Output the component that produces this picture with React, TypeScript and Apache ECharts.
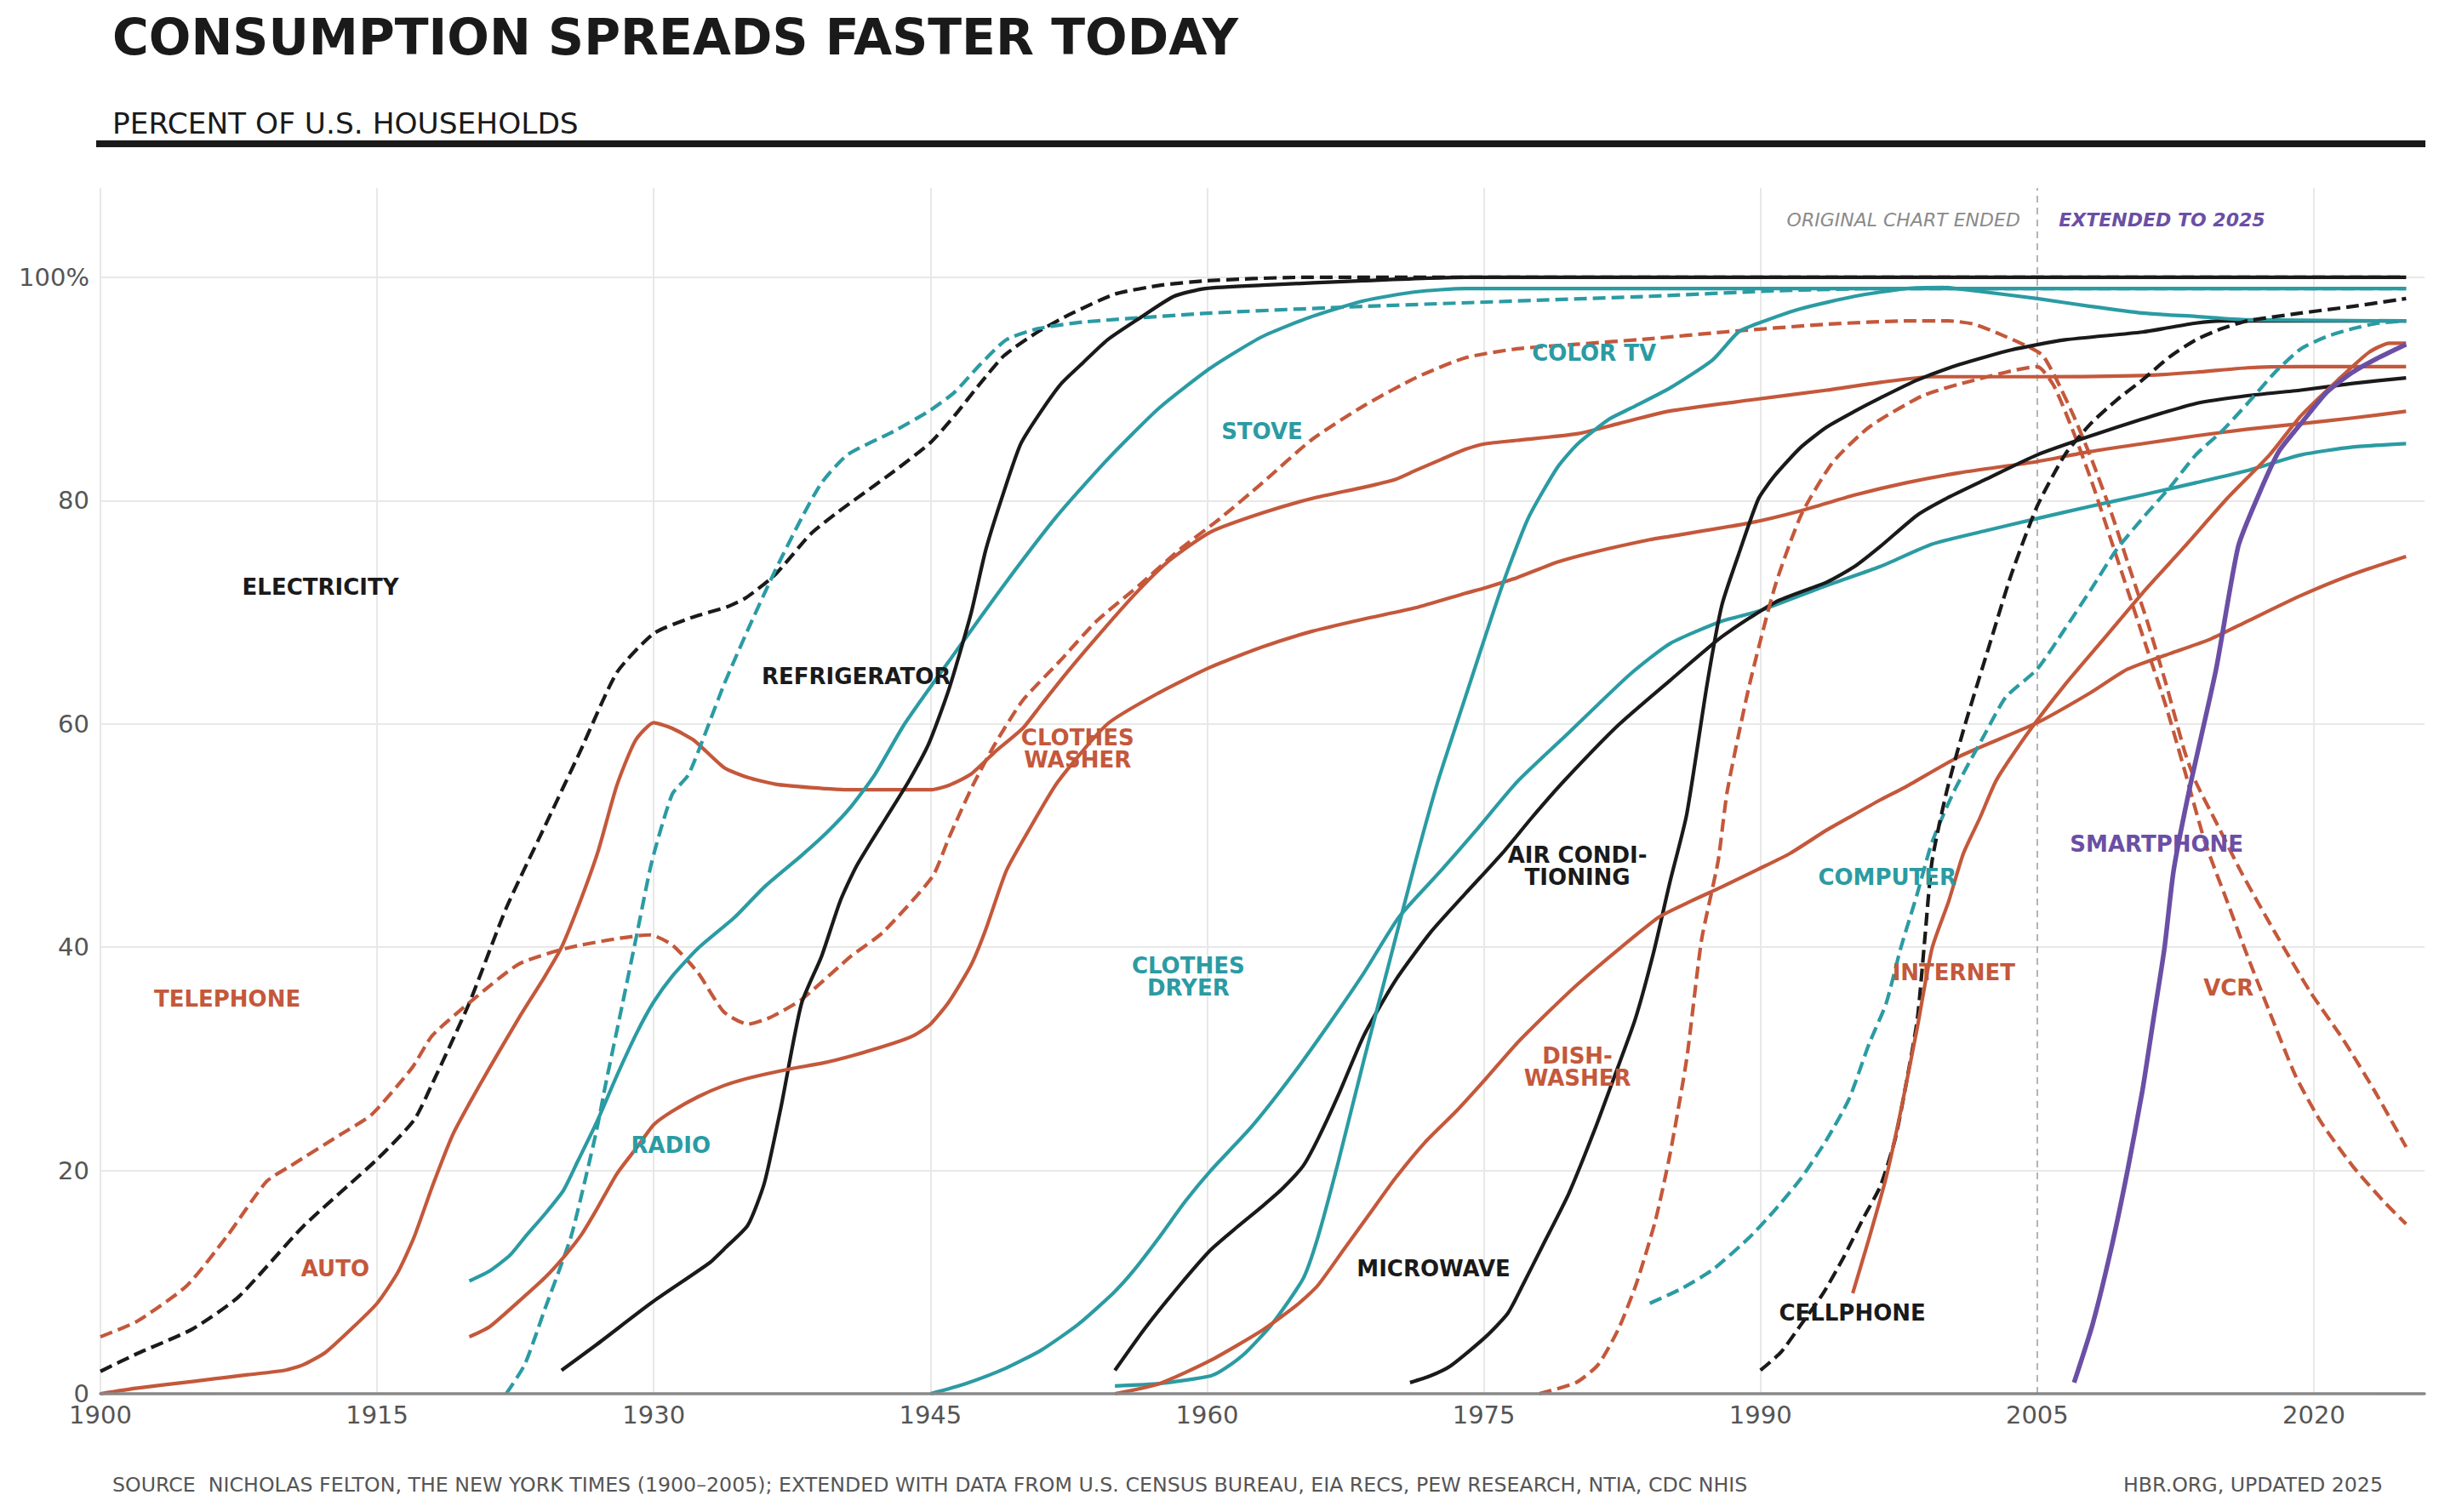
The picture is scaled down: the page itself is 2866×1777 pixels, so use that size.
import React, { useEffect, useRef } from "react";
import * as echarts from "echarts";

// ---------- DATA (year, percent of U.S. households) ----------
const ELECTRICITY = [[1900,2],[1902,3.6],[1905,5.8],[1907.5,8.7],[1911,15],[1915,21],[1917,24.5],[1918,27.8],[1920,35],[1922,43.5],[1924,50.5],[1926,57.5],[1928,64.6],[1930,68.1],[1932,69.5],[1934,70.5],[1935,71.3],[1936.6,73.4],[1938.5,77],[1940,79],[1943,82.6],[1945,85.2],[1946.3,87.6],[1947.7,90.5],[1949,93],[1950.8,95.1],[1952.7,96.8],[1955,98.5],[1957.5,99.3],[1960,99.7],[1965,100],[2025,100]];
const TELEPHONE = [[1900,5.1],[1902,6.5],[1904.7,9.7],[1906.9,14.2],[1909,19],[1910.3,20.4],[1913,23.2],[1914.7,25],[1916.9,29.2],[1918,32.1],[1920.2,35.3],[1922.7,38.5],[1925.5,40],[1929.8,41.1],[1931,40.2],[1932.4,37.7],[1933.8,34.2],[1935.1,33.1],[1936.3,33.7],[1938,35.3],[1940.7,39.2],[1942.4,41.3],[1945.1,46.3],[1946,49.8],[1947.3,54.5],[1948.5,58.2],[1950,62.1],[1952,65.6],[1954,69.2],[1956.3,72.4],[1958.5,75.6],[1960.7,78.4],[1963,81.6],[1965.7,85.5],[1968.5,88.5],[1971.3,91],[1974,92.8],[1976.8,93.6],[1980,94],[1984,94.5],[1988,95.1],[1993.6,95.8],[1998,96.1],[2000.2,96.1],[2001.6,95.8],[2003,94.9],[2004.5,93.8],[2005.3,93],[2006,91],[2007,87.5],[2008,83.5],[2009,79],[2010,74],[2011,69],[2012,63.5],[2013,57.5],[2013.6,54.8],[2014.7,51.2],[2016.1,46.6],[2017.9,41.3],[2019.8,36],[2021.6,31.7],[2023.3,27.1],[2025,22.1]];
const AUTO = [[1900,0],[1902,0.5],[1905,1.1],[1908,1.7],[1910,2.1],[1911,2.6],[1912.2,3.7],[1913.6,5.8],[1915,8.1],[1916.1,10.8],[1917,14],[1918,18.6],[1919.1,23.2],[1920,26],[1921.1,29.2],[1922.7,33.7],[1924.1,37.4],[1925,40],[1926.1,44.5],[1927,48.7],[1928,54.5],[1929,58.5],[1930,60.1],[1931,59.6],[1932.2,58.5],[1933.8,56.1],[1935.1,55.2],[1936.6,54.6],[1938.5,54.3],[1940.7,54.1],[1945,54.1],[1946,54.5],[1947.2,55.5],[1948.5,57.5],[1950,59.6],[1951,61.7],[1952.4,64.6],[1954.4,68.5],[1956.3,72],[1958,74.7],[1960.2,77.2],[1963,78.9],[1965.7,80.2],[1968.5,81.2],[1970.2,81.9],[1971.3,82.7],[1972.7,83.7],[1974,84.6],[1975.1,85.1],[1976.8,85.4],[1980.1,86],[1982.3,86.9],[1985,88],[1989.4,89],[1993.6,89.9],[1996.5,90.6],[1999.3,91.1],[2005,91.1],[2010.7,91.2],[2013.6,91.5],[2016.4,91.9],[2019.3,92],[2025,92]];
const RADIO = [[1920,10.1],[1921.1,11],[1922.2,12.4],[1923,14],[1924.1,16.1],[1925.1,18.2],[1925.9,20.9],[1926.9,24.3],[1928,28.5],[1929.1,32.4],[1930,35.1],[1931,37.4],[1932.4,39.9],[1934.4,42.7],[1936,45.4],[1938,48.2],[1939.4,50.3],[1940.7,52.6],[1942,55.5],[1943.6,60],[1946.3,66.3],[1949.1,72.7],[1951.9,78.7],[1954.6,83.7],[1957.4,88.3],[1960.2,91.9],[1963,94.7],[1965.7,96.5],[1968.5,97.9],[1971.3,98.7],[1974,99],[2025,99]];
const STOVE = [[1922,0],[1923,2.6],[1924.1,7.6],[1925.5,14],[1926.3,19.3],[1926.9,23.6],[1927.4,27.8],[1928.3,34.9],[1929.1,41.3],[1929.9,47.7],[1931,53.7],[1931.9,55.5],[1933.8,63.5],[1935.2,68.8],[1936.6,73.8],[1938,78.4],[1939.1,81.6],[1940.5,84.1],[1943,86.2],[1944.9,88],[1946.3,89.7],[1947.7,92.2],[1949.1,94.4],[1950.8,95.4],[1953.3,96],[1960.2,96.8],[1968.5,97.4],[1984,98.3],[1990.8,98.8],[1996.5,99],[2025,99]];
const REFRIGERATOR = [[1925,2.1],[1926.9,4.4],[1930,8.3],[1933,11.7],[1933.9,13.1],[1935.1,15.1],[1936,18.9],[1936.9,25.7],[1938,34.9],[1939.1,39.2],[1940.1,44.1],[1941,47.3],[1942.6,51.6],[1943.8,54.8],[1944.9,58.2],[1946,63.1],[1947.2,69.9],[1948,75.6],[1949,80.9],[1949.9,85.1],[1951,88],[1952.1,90.5],[1953.3,92.4],[1954.6,94.4],[1956.3,96.3],[1958.2,98.3],[1959.9,99],[1963,99.3],[1968.5,99.7],[1974,100],[2025,100]];
const CLOTHES_WASHER = [[1920,5.1],[1921.1,6],[1922.7,8.3],[1924.1,10.4],[1925.2,12.4],[1926.1,14.3],[1926.9,16.5],[1928,19.7],[1929.1,22.1],[1930,24.1],[1931,25.3],[1932.4,26.6],[1933.8,27.6],[1935.2,28.3],[1937.4,29.1],[1939.1,29.6],[1940.8,30.3],[1943,31.4],[1944.1,32.1],[1945,33.1],[1946,35.1],[1947.2,38.4],[1948,41.6],[1949.1,46.8],[1950.2,50.1],[1951.9,54.8],[1954.6,60],[1957.4,62.8],[1960.2,65.1],[1963,66.9],[1965.7,68.3],[1968.5,69.4],[1971.3,70.4],[1974,71.7],[1975.1,72.2],[1976.8,73.1],[1979,74.5],[1981,75.4],[1984,76.5],[1985.1,76.8],[1989.4,78],[1992.2,79.1],[1995.1,80.5],[1997.9,81.6],[2000.8,82.5],[2005,83.5],[2007.9,84.4],[2010.7,85.1],[2013.6,85.8],[2016.4,86.4],[2019.3,86.9],[2022.1,87.4],[2025,88]];
const CLOTHES_DRYER = [[1945,0],[1946.9,0.9],[1949.1,2.3],[1951,3.9],[1953,6.2],[1954.9,9],[1956,11],[1957.4,14],[1958.8,17.2],[1960.2,20],[1962.4,23.9],[1964.6,28.5],[1966.6,33.1],[1968.5,37.7],[1970.4,42.7],[1972.7,46.9],[1974.6,50.5],[1976.8,54.8],[1979.6,59.2],[1982.9,64.4],[1985.1,67.2],[1987.9,69.2],[1989.9,70.1],[1993.6,72.4],[1996.5,74.1],[1999.3,76.1],[2002.2,77.3],[2005,78.4],[2007.9,79.5],[2010.7,80.5],[2013.6,81.6],[2016.4,82.7],[2019.3,84.1],[2022.1,84.8],[2025,85.1]];
const AIR_CONDITIONING = [[1955,2.1],[1956.6,5.8],[1958.5,9.7],[1960.2,12.9],[1961.6,14.9],[1963,16.8],[1964.1,18.4],[1965.2,20.4],[1966,22.8],[1967.1,26.7],[1968.5,32.1],[1970.2,37],[1972.1,41.3],[1974,44.8],[1976,48.4],[1977.6,51.6],[1979.3,54.8],[1982.3,59.9],[1985.1,63.9],[1987.9,67.8],[1990.8,70.9],[1993.6,72.7],[1995.1,74.1],[1996.5,75.9],[1998.5,78.7],[2000.2,80.3],[2002.2,81.9],[2005,84.1],[2007.9,85.8],[2010.7,87.3],[2013.6,88.7],[2016.4,89.4],[2019.3,89.9],[2022.1,90.5],[2025,91]];
const MICROWAVE = [[1971,1],[1972.1,1.6],[1973.2,2.5],[1975.1,5.1],[1976.3,7.2],[1977.1,9.7],[1978.2,13.3],[1979.6,17.9],[1981,23.6],[1982.1,28.5],[1983.2,33.5],[1984.2,39.5],[1985.1,45.9],[1986,51.9],[1987.1,63.5],[1987.9,70.6],[1988.9,75.6],[1989.9,80.2],[1990.8,82.3],[1992.2,84.8],[1993.6,86.6],[1995.1,88],[1996.5,89.2],[1998.5,90.8],[2000.8,92.2],[2003.6,93.5],[2006.5,94.4],[2010.7,95.1],[2013.6,95.9],[2015,96.1],[2025,96.1]];
const COLOR_TV = [[1955,0.7],[1957.4,0.9],[1960.2,1.6],[1961,2.3],[1962.1,3.7],[1963.5,6.2],[1965.2,10.3],[1966,14],[1967.1,20.7],[1968.5,29.9],[1969.9,38.8],[1971.3,47.7],[1972.5,54.8],[1974,62.4],[1976,72.4],[1977.4,78.4],[1979,83],[1980.1,85.1],[1981.8,87.3],[1983,88.3],[1985.1,90.1],[1987.4,92.6],[1988.8,95.1],[1989.9,95.9],[1992.2,97.2],[1995.1,98.3],[1997.9,99],[1999.9,99.1],[2001.6,98.8],[2005,98.1],[2007.9,97.4],[2010.7,96.8],[2013.6,96.5],[2016.4,96.2],[2025,96.1]];
const DISHWASHER = [[1955,0],[1957.4,0.9],[1960.2,3],[1963,5.7],[1964.9,8],[1966,9.7],[1967.4,12.9],[1968.8,16.1],[1970.2,19.3],[1971.8,22.5],[1973.5,25.3],[1975.1,28.2],[1976.8,31.4],[1978.5,34.2],[1980.1,36.7],[1982.3,39.8],[1984.5,42.7],[1986.2,44.1],[1987.9,45.4],[1989.9,47],[1991.6,48.4],[1993.6,50.5],[1995.1,51.9],[1996.5,53.2],[1997.8,54.3],[2000.8,57.1],[2005,60.1],[2007.9,62.8],[2009.9,64.9],[2012.2,66.3],[2014.4,67.6],[2016.4,69.2],[2019.3,71.5],[2022.1,73.4],[2025,75]];
const VCR = [[1978,0],[1980,1],[1981.2,2.6],[1982.3,5.8],[1983.3,10],[1984.3,15.5],[1985.1,21.5],[1986,30],[1986.8,40.6],[1987.7,47.7],[1988.2,54],[1989.4,63.5],[1990.8,72.4],[1992.2,78.7],[1993.9,83.4],[1995.9,86.6],[1998.8,89.4],[2001.6,90.8],[2005,92],[2005.9,90.3],[2007,86],[2008,81.5],[2009,76.5],[2010,71.5],[2011,66.5],[2012,61.5],[2013,55.8],[2014.1,49.4],[2015.3,44.1],[2016.4,39.2],[2017.6,34.2],[2019,28.5],[2020.4,24.3],[2022.1,20.4],[2023.8,17.2],[2025,15.2]];
const COMPUTER = [[1984,8.1],[1985.7,9.4],[1987.4,11.1],[1989.4,14],[1990.8,16.5],[1992.2,19.3],[1993.6,22.8],[1994.8,26.4],[1995.9,31.4],[1996.8,34.9],[1997.6,39.9],[1998.5,44.8],[1999.3,49.4],[2000.5,54],[2002.2,59.2],[2003.3,62.4],[2005,64.9],[2006.5,68.5],[2007.9,72],[2009.3,75.6],[2010.7,78.4],[2012.2,81.2],[2013.6,84.1],[2015,86.2],[2016.4,88.7],[2017.9,91.5],[2019.3,93.6],[2020.7,94.7],[2022.1,95.4],[2023.5,95.9],[2025,96.1]];
const CELLPHONE = [[1990,2.1],[1991.1,3.7],[1992.2,6.2],[1993.4,9],[1994.5,12.2],[1995.6,15.8],[1996.5,18.6],[1997.3,22.8],[1997.9,27.8],[1998.5,33.5],[1998.9,40.6],[1999.3,47.7],[2000.1,54],[2001.1,60],[2002.4,67],[2003.6,73.4],[2005,79.5],[2006.5,84.1],[2007.9,86.9],[2009.3,89],[2010.7,90.8],[2012.2,92.9],[2013.6,94.4],[2015,95.4],[2016.4,96.1],[2019.3,96.8],[2022.1,97.4],[2025,98.1]];
const INTERNET = [[1995,9],[1995.9,14],[1996.8,19.3],[1997.6,25.3],[1998.5,32.8],[1999.3,39.9],[2000.2,44.1],[2001,48.4],[2001.9,51.6],[2002.8,55],[2004.5,59.2],[2006.5,63.5],[2008.5,67.4],[2010.7,71.7],[2013,75.9],[2015.3,80.2],[2017.6,84.1],[2019.3,87.6],[2021.3,90.8],[2023,93.3],[2024.1,94.1],[2025,94.1]];
const SMARTPHONE = [[2007,1],[2008,6.2],[2009,12.9],[2009.9,20],[2010.7,27.1],[2011.3,33.5],[2011.9,39.9],[2012.4,46.9],[2013.3,54.5],[2014.7,64.9],[2015.9,75.9],[2017,80.5],[2018.1,84.4],[2019.3,86.9],[2020.7,89.7],[2022.1,91.5],[2023.5,92.8],[2025,94]];

const X_TICKS = [1900, 1915, 1930, 1945, 1960, 1975, 1990, 2005, 2020];
const Y_TICKS = [0, 20, 40, 60, 80, 100];
const SPLIT_YEAR = 2005;

// label text, year, value, colour key
const LABELS = [
  ["ELECTRICITY", 1911.95, 72.2, "black"],
  ["REFRIGERATOR", 1941.0, 64.2, "black"],
  ["TELEPHONE", 1906.9, 35.3, "orange"],
  ["AUTO", 1912.75, 11.2, "orange"],
  ["RADIO", 1930.95, 22.2, "teal"],
  ["CLOTHES\nWASHER", 1953.0, 57.7, "orange"],
  ["STOVE", 1963.0, 86.2, "teal"],
  ["COLOR TV", 1981.0, 93.2, "teal"],
  ["CLOTHES\nDRYER", 1959.0, 37.3, "teal"],
  ["AIR CONDI-\nTIONING", 1980.1, 47.2, "black"],
  ["DISH-\nWASHER", 1980.1, 29.25, "orange"],
  ["MICROWAVE", 1972.3, 11.2, "black"],
  ["COMPUTER", 1996.9, 46.2, "teal"],
  ["INTERNET", 2000.5, 37.7, "orange"],
  ["CELLPHONE", 1995.0, 7.2, "black"],
  ["SMARTPHONE", 2011.5, 49.2, "purple"],
  ["VCR", 2015.4, 36.3, "orange"],
];

const COLORS: Record<string, string> = {
  black: "#1a1a1a",
  orange: "#c4583b",
  teal: "#2b9ba3",
  purple: "#6a4fa5",
};

// name, data, colour key, dashed
const SERIES_DEFS: [string, number[][], string, boolean][] = [
  ["Electricity", ELECTRICITY, "black", true],
  ["Telephone", TELEPHONE, "orange", true],
  ["Auto", AUTO, "orange", false],
  ["Radio", RADIO, "teal", false],
  ["Stove", STOVE, "teal", true],
  ["Refrigerator", REFRIGERATOR, "black", false],
  ["Clothes washer", CLOTHES_WASHER, "orange", false],
  ["Clothes dryer", CLOTHES_DRYER, "teal", false],
  ["Air conditioning", AIR_CONDITIONING, "black", false],
  ["Microwave", MICROWAVE, "black", false],
  ["Color TV", COLOR_TV, "teal", false],
  ["Dishwasher", DISHWASHER, "orange", false],
  ["VCR", VCR, "orange", true],
  ["Computer", COMPUTER, "teal", true],
  ["Cellphone", CELLPHONE, "black", true],
  ["Internet", INTERNET, "orange", false],
  ["Smartphone", SMARTPHONE, "purple", false],
];

const FONT = "DejaVu Sans";

export default function App() {
  const ref = useRef<HTMLDivElement>(null);
  useEffect(() => {
    if (!ref.current) return;
    const chart = echarts.init(ref.current, null, { renderer: "svg" });

    const lineSeries = SERIES_DEFS.map(([name, data, c, dashed]) => ({
      name,
      type: "line",
      data,
      z: c === "purple" ? 4 : 3,
      silent: true,
      showSymbol: false,
      symbol: "none",
      smooth: 0.2,
      lineStyle: {
        color: COLORS[c],
        width: c === "purple" ? 5.5 : 4.2,
        type: dashed ? [15, 7] : "solid",
        cap: "butt",
        join: "round",
      },
    }));

    const textLabel = (extra: any) => ({
      textBorderWidth: 0,
      textBorderColor: "transparent",
      textShadowBlur: 0,
      opacity: 1,
      ...extra,
    });

    const option: any = {
      animation: false,
      backgroundColor: "#ffffff",
      grid: { left: 118, right: 17, top: 221, bottom: 139, containLabel: false },
      xAxis: {
        type: "value",
        min: 1900,
        max: 2026,
        interval: 15,
        z: 4,
        axisLine: { show: true, lineStyle: { color: "#888888", width: 3.5 } },
        axisTick: { show: false },
        splitLine: { show: false },
        axisLabel: {
          color: "#555555",
          fontSize: 29,
          fontFamily: FONT,
          margin: 10,
          showMaxLabel: false,
          formatter: (v: number) => (X_TICKS.includes(v) ? String(v) : ""),
        },
      },
      yAxis: {
        type: "value",
        min: 0,
        max: 108,
        interval: 20,
        axisLine: { show: false },
        axisTick: { show: false },
        splitLine: { show: false },
        axisLabel: {
          color: "#555555",
          fontSize: 29,
          fontFamily: FONT,
          margin: 13,
          showMaxLabel: false,
          formatter: (v: number) =>
            v === 100 ? "100%" : Y_TICKS.includes(v) ? String(v) : "",
        },
      },
      graphic: [
        {
          type: "text",
          x: 132,
          y: 44,
          style: {
            text: "CONSUMPTION SPREADS FASTER TODAY",
            font: `bold 58.4px "${FONT}"`,
            fill: "#1a1a1a",
            verticalAlign: "middle",
          },
        },
        {
          type: "text",
          x: 132,
          y: 145,
          style: {
            text: "PERCENT OF U.S. HOUSEHOLDS",
            font: `34.4px "${FONT}"`,
            fill: "#1a1a1a",
            verticalAlign: "middle",
          },
        },
        {
          type: "rect",
          shape: { x: 113, y: 165, width: 2737, height: 8 },
          style: { fill: "#1a1a1a" },
        },
        {
          type: "text",
          x: 132,
          y: 1745,
          style: {
            text: "SOURCE  NICHOLAS FELTON, THE NEW YORK TIMES (1900–2005); EXTENDED WITH DATA FROM U.S. CENSUS BUREAU, EIA RECS, PEW RESEARCH, NTIA, CDC NHIS",
            font: `23.7px "${FONT}"`,
            fill: "#555555",
            verticalAlign: "middle",
          },
        },
        {
          type: "text",
          x: 2800,
          y: 1745,
          style: {
            text: "HBR.ORG, UPDATED 2025",
            font: `23.7px "${FONT}"`,
            fill: "#555555",
            align: "right",
            verticalAlign: "middle",
          },
        },
      ],
      series: [
        {
          name: "grid",
          type: "line",
          data: [],
          z: 1,
          silent: true,
          markLine: {
            z: 1,
            silent: true,
            symbol: ["none", "none"],
            label: { show: false },
            lineStyle: { color: "#e8e8e8", width: 2, type: "solid" },
            data: [
              ...X_TICKS.filter((x) => x !== SPLIT_YEAR).map((x) => ({ xAxis: x })),
              ...Y_TICKS.filter((y) => y > 0).map((y) => ({ yAxis: y })),
              {
                xAxis: SPLIT_YEAR,
                lineStyle: { color: "#b4b4b4", width: 2, type: [8, 6] },
              },
            ],
          },
        },
        ...lineSeries,
        {
          name: "labels",
          type: "scatter",
          z: 10,
          silent: true,
          symbolSize: 1,
          itemStyle: { color: "rgba(0,0,0,0)" },
          label: textLabel({
            show: true,
            position: [0, 0],
            formatter: "{b}",
            fontFamily: FONT,
            fontWeight: "bold",
            fontSize: 26,
            lineHeight: 26,
            align: "center",
            verticalAlign: "middle",
          }),
          data: [
            ...LABELS.map(([t, x, y, c]) => ({
              name: t,
              value: [x, y],
              label: textLabel({ color: COLORS[c as string] }),
            })),
            {
              name: "ORIGINAL CHART ENDED",
              value: [2004.1, 105.1],
              label: textLabel({
                color: "#8a8a8a",
                fontWeight: "normal",
                fontStyle: "italic",
                fontSize: 22,
                align: "right",
              }),
            },
            {
              name: "EXTENDED TO 2025",
              value: [2006.2, 105.1],
              label: textLabel({
                color: COLORS.purple,
                fontWeight: "bold",
                fontStyle: "italic",
                fontSize: 22,
                align: "left",
              }),
            },
          ],
        },
      ],
    };
    chart.setOption(option);
    return () => chart.dispose();
  }, []);
  return (
    <div
      ref={ref}
      style={{ position: "fixed", left: 0, top: 0, width: 2866, height: 1777, background: "#fff" }}
    />
  );
}
